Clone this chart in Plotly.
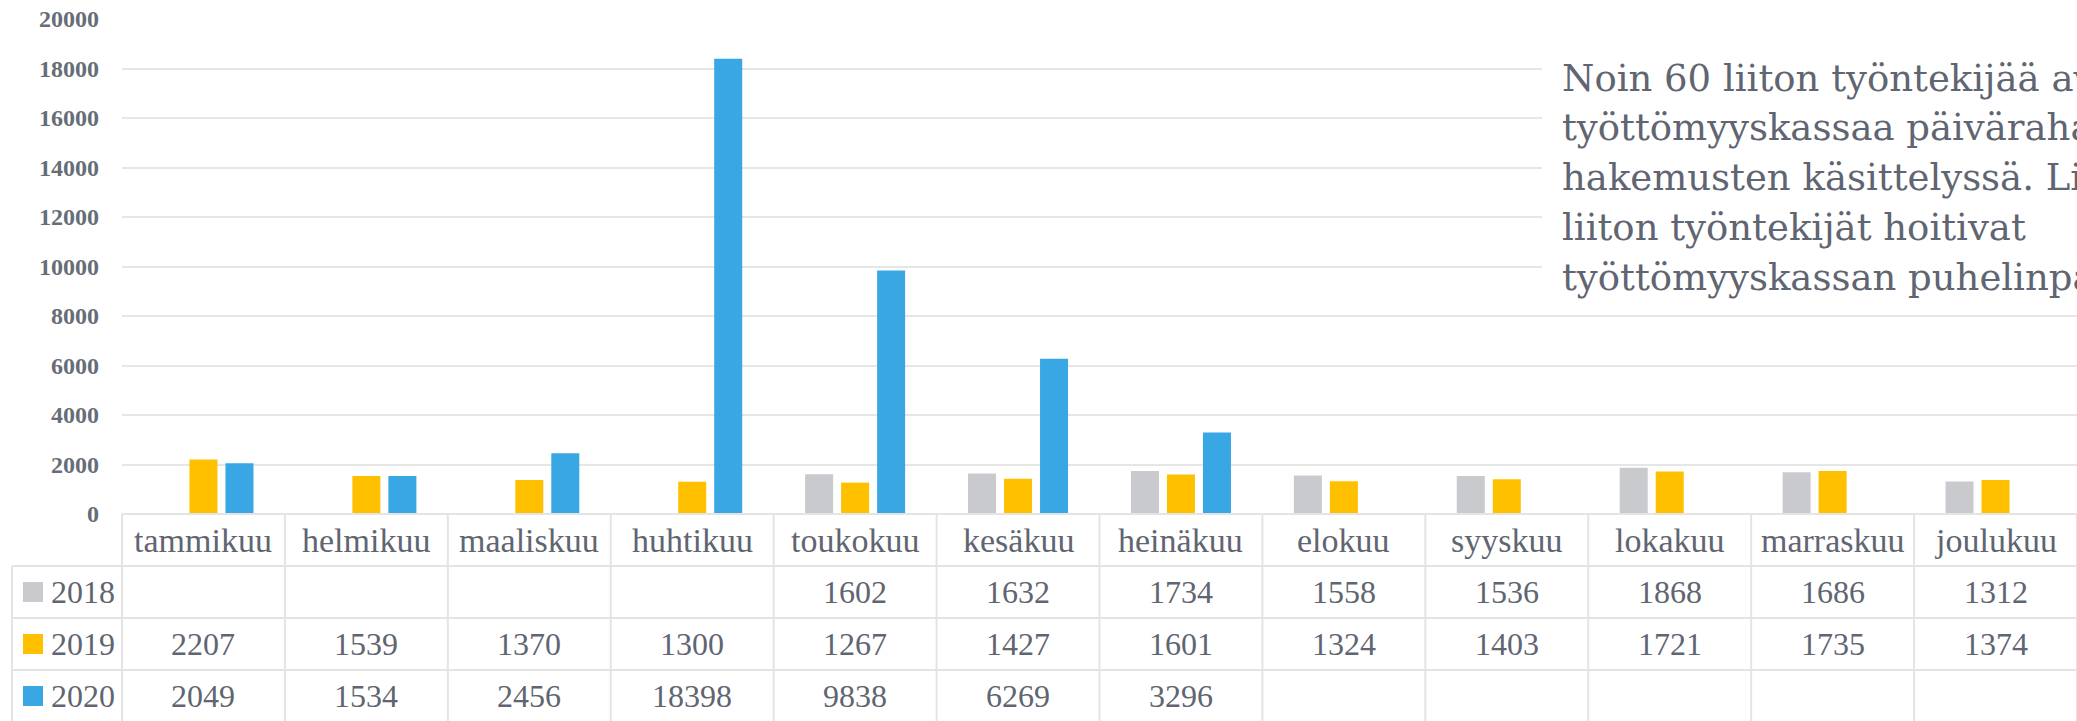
import plotly.graph_objects as go

# ---------------- data ----------------
months = ["tammikuu", "helmikuu", "maaliskuu", "huhtikuu", "toukokuu", "kesäkuu",
          "heinäkuu", "elokuu", "syyskuu", "lokakuu", "marraskuu", "joulukuu"]
years = ["2018", "2019", "2020"]
v2018 = [None, None, None, None, 1602, 1632, 1734, 1558, 1536, 1868, 1686, 1312]
v2019 = [2207, 1539, 1370, 1300, 1267, 1427, 1601, 1324, 1403, 1721, 1735, 1374]
v2020 = [2049, 1534, 2456, 18398, 9838, 6269, 3296, None, None, None, None, None]
series = [v2018, v2019, v2020]
colors = ["#C9CACE", "#FFC000", "#39A7E3"]
yticks = list(range(0, 20001, 2000))
yticktext = [str(v) for v in yticks]
note_lines = [
    "Noin 60 liiton työntekijää avusti",
    "työttömyyskassaa päivärahan",
    "hakemusten käsittelyssä. Lisäksi",
    "liiton työntekijät hoitivat",
    "työttömyyskassan puhelinpalvelua.",
]

# ---------------- layout constants ----------------
W, H = 2077, 721
L, R, T, B = 122, 0, 19, 207
TEXT = "#5F6571"
GRID = "#E6E6E6"
SERIF = "Liberation Serif"


def px(x):
    return (x - L) / (W - L - R)


def py(y):
    return (H - B - y) / (H - T - B)


fig = go.Figure()
for name, vals, col in zip(years, series, colors):
    fig.add_trace(go.Bar(x=months, y=vals, name=name, marker_color=col,
                         marker_line_width=0, showlegend=False))

shapes = []
annotations = []

# white box behind the note
shapes.append(dict(type="rect", xref="paper", yref="paper",
                   x0=px(1542), x1=1.02, y0=py(300), y1=py(35),
                   fillcolor="white", line_width=0, layer="above"))

# table grid
rows = [514, 566, 618, 670, 722]
n = len(months)
line_style = dict(color="#E4E4E4", width=2)
shapes.append(dict(type="line", xref="paper", yref="paper", x0=0, x1=1,
                   y0=py(rows[0]), y1=py(rows[0]), line=line_style))
for r in rows[1:]:
    shapes.append(dict(type="line", xref="paper", yref="paper", x0=px(12), x1=1,
                       y0=py(r), y1=py(r), line=line_style))
for k in range(n + 1):
    shapes.append(dict(type="line", xref="paper", yref="paper", x0=k / n, x1=k / n,
                       y0=py(rows[0]), y1=py(rows[-1]), line=line_style))
shapes.append(dict(type="line", xref="paper", yref="paper", x0=px(12), x1=px(12),
                   y0=py(rows[1]), y1=py(rows[-1]), line=line_style))

# header
for i, m in enumerate(months):
    annotations.append(dict(xref="paper", yref="paper", x=(i + 0.5) / n,
                            y=py((rows[0] + rows[1]) / 2), text=m, showarrow=False,
                            xanchor="center", yanchor="middle",
                            font=dict(family=SERIF, size=34, color=TEXT)))

# rows
for j, (name, vals, col) in enumerate(zip(years, series, colors)):
    yc = (rows[j + 1] + rows[j + 2]) / 2
    shapes.append(dict(type="rect", xref="paper", yref="paper",
                       x0=px(23), x1=px(43), y0=py(yc + 10), y1=py(yc - 10),
                       fillcolor=col, line_width=0))
    annotations.append(dict(xref="paper", yref="paper", x=px(49), y=py(yc),
                            text=name, showarrow=False, xanchor="left", yanchor="middle",
                            font=dict(family=SERIF, size=32, color=TEXT)))
    for i, v in enumerate(vals):
        if v is None:
            continue
        annotations.append(dict(xref="paper", yref="paper", x=(i + 0.5) / n, y=py(yc),
                                text=str(v), showarrow=False,
                                xanchor="center", yanchor="middle",
                                font=dict(family=SERIF, size=32, color=TEXT)))

# note text
note_centers = [78, 128, 178, 227, 277]
for t, yc in zip(note_lines, note_centers):
    annotations.append(dict(xref="paper", yref="paper", x=px(1560), y=py(yc),
                            text=t, showarrow=False, xanchor="left", yanchor="middle",
                            font=dict(family="DejaVu Serif", size=37, color=TEXT)))

fig.update_layout(
    width=W, height=H,
    margin=dict(l=L, r=R, t=T, b=B, pad=0),
    paper_bgcolor="white", plot_bgcolor="white",
    barmode="group", bargap=0.337, bargroupgap=0.222,
    shapes=shapes, annotations=annotations,
    xaxis=dict(showticklabels=False, showgrid=False, zeroline=False, showline=False,
               ticks=""),
    yaxis=dict(range=[0, 20000], tickvals=yticks, ticktext=yticktext, ticks="",
               showline=False, zeroline=False, showgrid=True, gridcolor=GRID,
               gridwidth=2, ticklabelstandoff=22,
               tickfont=dict(family=SERIF, size=24, color="#676D77", weight="bold")),
)

fig.write_html("out.html", config={"displayModeBar": False},
               post_script="document.body.style.margin='0';")
